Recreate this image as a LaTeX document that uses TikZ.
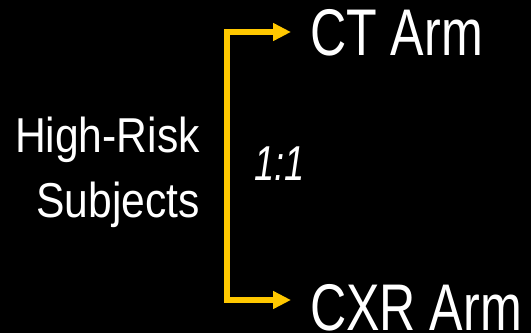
\documentclass[tikz,border=0pt]{standalone}
\usepackage{fontspec}
\usetikzlibrary{arrows.meta}
\setmainfont{Liberation Sans}
\newfontfamily\armfont[FakeStretch=0.76]{Liberation Sans}
\newfontfamily\leftfont[FakeStretch=0.87]{Liberation Sans}
\newfontfamily\ratiofont[FakeStretch=0.74]{Liberation Sans}
\definecolor{bracketyellow}{HTML}{FFC800}
\tikzset{
  armlabel/.style={anchor=base west, inner xsep=19pt, inner ysep=0pt, text=white,
    font=\armfont\fontsize{66}{70}\selectfont},
  srclabel/.style={anchor=east, inner sep=0pt, align=right, text=white,
    font=\leftfont\fontsize{49}{65}\selectfont},
  ratiolabel/.style={anchor=base west, inner sep=0pt, text=white,
    font=\ratiofont\itshape\fontsize{49}{55}\selectfont},
  bracket/.style={draw=bracketyellow, line width=6pt, line join=miter,
    {Triangle[length=18pt,width=17pt]}-{Triangle[length=18pt,width=17pt]}}
}
\begin{document}
\begin{tikzpicture}[x=1pt,y=-1pt]
  \fill[black] (0,0) rectangle (531,333);
  \useasboundingbox (0,0) rectangle (531,333);
  \node[srclabel] (src) at (200,172) {High-Risk\\Subjects};
  \node[armlabel] (ct) at (291,55) {CT Arm};
  \node[armlabel] (cxr) at (291,330) {CXR Arm};
  \node[ratiolabel] (ratio) at (254,180) {1:1};
  \coordinate (jT) at (227,32);
  \coordinate (jB) at (227,300);
  \draw[bracket] (jT -| ct.west) -- (jT) -- (jB) -- (jB -| cxr.west);
\end{tikzpicture}
\end{document}
